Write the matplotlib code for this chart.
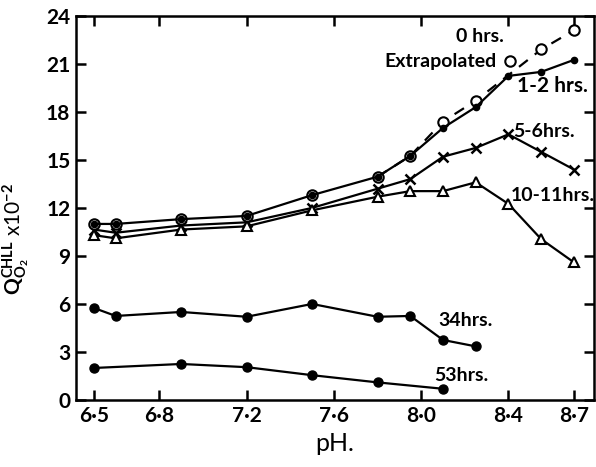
import matplotlib
matplotlib.use("Agg")
import matplotlib.pyplot as plt
from matplotlib.lines import Line2D

plt.rcParams['font.family'] = ['Lato', 'DejaVu Sans']
plt.rcParams['font.weight'] = 'bold'
plt.rcParams['mathtext.fontset'] = 'custom'
plt.rcParams['mathtext.rm'] = 'Lato:bold'
plt.rcParams['mathtext.it'] = 'Lato:bold'
plt.rcParams['mathtext.bf'] = 'Lato:bold'

# pH values of the measurements
ph = [6.5, 6.6, 6.9, 7.2, 7.5, 7.8, 7.95, 8.1, 8.25, 8.4, 8.55, 8.7]

# 0 hrs (measured part, then extrapolated)
q_0h = [11.0, 11.0, 11.3, 11.5, 12.8, 13.95, 15.25, 17.4, 18.7]
ph_0h_ext = [8.55, 8.7]
q_0h_ext = [21.9, 23.1]

q_1_2h = [11.0, 11.0, 11.3, 11.5, 12.8, 13.95, 15.25, 17.0, 18.3, 20.25, 20.5, 21.25]
q_5_6h = [10.65, 10.45, 10.9, 11.1, 12.0, 13.2, 13.8, 15.2, 15.75, 16.6, 15.5, 14.4]
q_10_11h = [10.3, 10.1, 10.65, 10.85, 11.85, 12.7, 13.05, 13.05, 13.6, 12.25, 10.05, 8.6]
q_34h = [5.75, 5.25, 5.5, 5.2, 6.0, 5.2, 5.25, 3.75, 3.35]
ph_53h = [6.5, 6.9, 7.2, 7.5, 7.8, 8.1]
q_53h = [2.0, 2.25, 2.05, 1.55, 1.1, 0.7]

xticks = [6.5, 6.8, 7.2, 7.6, 8.0, 8.4, 8.7]
xticklabels = ['6·5', '6·8', '7·2', '7·6', '8·0', '8·4', '8·7']
yticks = [0, 3, 6, 9, 12, 15, 18, 21, 24]

fig = plt.figure(figsize=(5.96, 4.67), dpi=100)
ax = fig.add_axes([0.1275, 0.1435, 0.8695, 0.8225])

lw = 1.6
# 0 hrs: open circles, dashed extrapolation from pH 7.8
ax.plot(ph[:9], q_0h, ls='none', marker='o', ms=7.5, mfc='white', mec='k', mew=1.5, zorder=3)
ax.plot(ph[5:9] + ph_0h_ext, q_0h[5:] + q_0h_ext, color='k', lw=lw, ls=(0, (5, 4)), zorder=2)
ax.plot(ph_0h_ext, q_0h_ext, ls='none', marker='o', ms=7.5, mfc='white', mec='k', mew=1.5, zorder=3)

ax.plot(ph, q_1_2h, color='k', lw=lw, marker='o', ms=4.5, zorder=4)
ax.plot(ph, q_5_6h, color='k', lw=lw, marker='x', ms=7, mew=1.8, zorder=2)
ax.plot(ph, q_10_11h, color='k', lw=lw, marker='^', ms=6.5, mfc='white', mew=1.5, zorder=2)
ax.plot(ph[:9], q_34h, color='k', lw=lw, marker='o', ms=6.5, zorder=2)
ax.plot(ph_53h, q_53h, color='k', lw=lw, marker='o', ms=6.5, zorder=2)

fs = 14
ax.text(8.16, 22.7, '0 hrs.', fontsize=fs, va='center')
ax.text(8.44, 19.6, '1-2 hrs.', fontsize=15, va='center')
ax.text(8.42, 16.75, '5-6hrs.', fontsize=fs, va='center')
ax.text(8.41, 12.75, '10-11hrs.', fontsize=fs, va='center')
ax.text(8.08, 4.95, '34hrs.', fontsize=fs, va='center')
ax.text(8.06, 1.5, '53hrs.', fontsize=fs, va='center')

key = Line2D([], [], ls='none', marker='o', ms=7.5, mfc='white', mec='k', mew=1.5)
ax.legend([key], ['Extrapolated'], loc='center right', bbox_to_anchor=(0.857, 0.88),
          frameon=False, markerfirst=False, borderpad=0, borderaxespad=0,
          handlelength=1.0, handletextpad=0.2, fontsize=fs)

ax.set_xlim(6.418, 8.793)
ax.set_ylim(0, 24)
ax.set_xticks(xticks)
ax.set_xticklabels(xticklabels)
ax.set_yticks(yticks)
ax.tick_params(direction='in', length=7, width=1.8, labelsize=15, pad=4,
               top=True, right=True)
for s in ax.spines.values():
    s.set_linewidth(1.8)

ax.set_xlabel('pH.', fontsize=18, fontweight='normal', labelpad=5)
ax.set_ylabel(r'$\mathrm{Q_{O_2}^{CHLL}}$ x10$^{-2}$', fontsize=15)
ax.yaxis.set_label_coords(-0.085, 0.42)

plt.savefig('out.png', dpi=100)
